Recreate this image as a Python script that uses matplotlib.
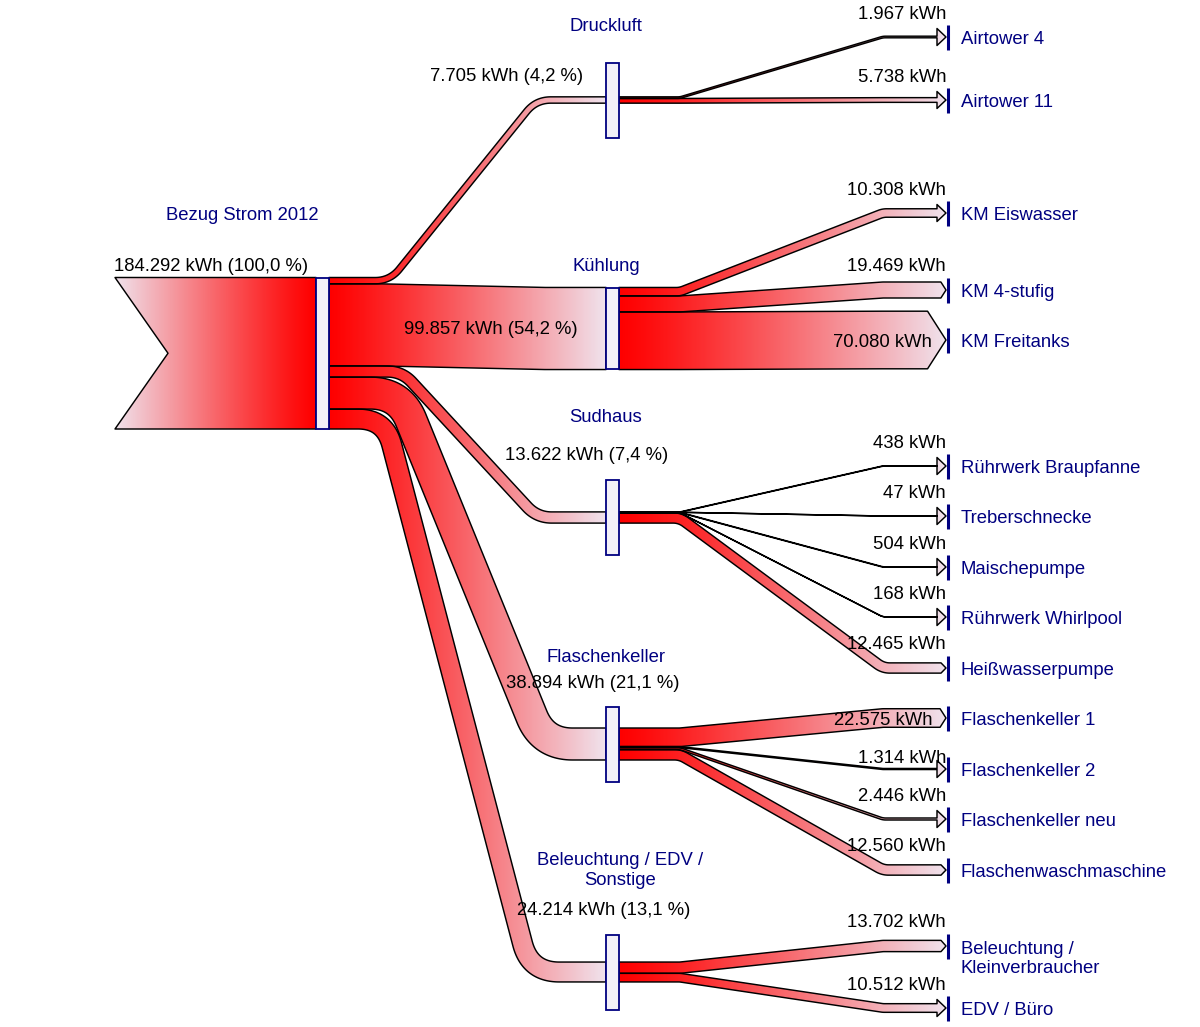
import numpy as np
import matplotlib
matplotlib.use('Agg')
import matplotlib.pyplot as plt
from matplotlib.patches import Polygon, Rectangle
from matplotlib.colors import LinearSegmentedColormap

plt.rcParams['font.family'] = ['Liberation Sans', 'DejaVu Sans']

# ---------------- data ----------------
source_name = 'Bezug Strom 2012'
source_value = 184292

mid_names = ['Druckluft', 'Kühlung', 'Sudhaus', 'Flaschenkeller',
             'Beleuchtung / EDV /\nSonstige']
mid_values = [7705, 99857, 13622, 38894, 24214]

end_names = ['Airtower 4', 'Airtower 11',
             'KM Eiswasser', 'KM 4-stufig', 'KM Freitanks',
             'Rührwerk Braupfanne', 'Treberschnecke', 'Maischepumpe',
             'Rührwerk Whirlpool', 'Heißwasserpumpe',
             'Flaschenkeller 1', 'Flaschenkeller 2', 'Flaschenkeller neu',
             'Flaschenwaschmaschine',
             'Beleuchtung /\nKleinverbraucher', 'EDV / Büro']
end_values = [1967, 5738,
              10308, 19469, 70080,
              438, 47, 504, 168, 12465,
              22575, 1314, 2446, 12560,
              13702, 10512]
end_parent = [0, 0, 1, 1, 1, 2, 2, 2, 2, 2, 3, 3, 3, 3, 4, 4]

# ---------------- layout (canvas pixels) ----------------
SCALE = 151.5 / source_value          # px per kWh
SRC_TIP, SRC_NOTCH, SRC_X0, SRC_X1 = 115, 168, 316, 329
SRC_TOP = 277.5
MID_X0, MID_X1 = 606, 619
END_TIP, BAR_X = 946, 948

mid_y = [100, 328.5, 517.5, 744, 972]
mid_bend_a = [390, 380, 402, 400, 385]
mid_bend_b = [536, 545, 537, 543, 530]
mid_name_pos = [(606, 24), (606, 264), (606, 415), (606, 655), (620, 868)]
mid_value_pos = [(507, 74), (491, 327), (587, 453), (593, 681), (604, 908)]

end_y = [37, 100, 213, 290, 340, 466, 516, 567, 617, 668,
         718, 769, 819, 870, 946, 1008]
end_label_y = [37, 100, 213, 290, 340, 466, 516, 567, 617, 668,
               718, 769, 819, 870, 956.5, 1008]
end_value_dy = [-25, -25, -25, -26, 0, -25, -25, -25, -25, -26,
                0, -13, -25, -26, -26, -25]
END_BEND_A, END_BEND_B = 680, 883
TEXT_DY = 2.5   # visual centring of glyphs

RED = '#ff0000'
PALE = '#f0e2ec'
NAVY = '#000080'
BOX_FACE = '#f2f0f8'
FS = 13.3

cmap = LinearSegmentedColormap.from_list('flow', [RED, PALE], gamma=1.15)


def fmt_kwh(v):
    return f"{v:,}".replace(',', '.') + ' kWh'


def fmt_pct(v):
    return f"{v / source_value * 100:.1f}".replace('.', ',') + ' %'


def centerline(x0, y0, x1, y1, xa, xb, r):
    P = np.array([[x0, y0], [xa, y0], [xb, y1], [x1, y1]], float)
    pts = [P[0]]
    for i in (1, 2):
        v_in = P[i] - P[i - 1]
        v_out = P[i + 1] - P[i]
        l_in, l_out = np.hypot(*v_in), np.hypot(*v_out)
        u_in, u_out = v_in / l_in, v_out / l_out
        theta = np.arccos(np.clip(np.dot(u_in, u_out), -1, 1))
        if theta < 1e-3:
            pts.append(P[i])
            continue
        d = min(r * np.tan(theta / 2), 0.48 * l_in, 0.48 * l_out)
        a = P[i] - d * u_in
        b = P[i] + d * u_out
        t = np.linspace(0, 1, 40)[:, None]
        pts.extend((1 - t) ** 2 * a + 2 * t * (1 - t) * P[i] + t ** 2 * b)
    pts.append(P[3])
    pts = np.array(pts)
    keep = np.r_[True, np.hypot(*np.diff(pts, axis=0).T) > 1e-6]
    return pts[keep]


def band(x0, y0, x1, y1, xa, xb, w, r, head=False):
    body_end = x1
    if head:
        if w < 9.5:
            hh, hl = 8.5, 9
        else:
            hh, hl = w / 2, max(5, 0.32 * w)
        body_end = x1 - hl
    c = centerline(x0, y0, body_end, y1, xa, xb, r)
    tan = np.gradient(c, axis=0)
    tan /= np.hypot(tan[:, 0], tan[:, 1])[:, None]
    nrm = np.column_stack([-tan[:, 1], tan[:, 0]])
    e1 = c + nrm * w / 2
    e2 = c - nrm * w / 2
    mid = []
    if head:
        mid = [[body_end, y1 + hh], [x1, y1], [body_end, y1 - hh]]
    return np.vstack([e1, np.array(mid).reshape(-1, 2), e2[::-1]])


def draw_gradient_shape(ax, verts, xs, xe, t_start=0.0, t_end=1.0, z=2):
    poly = Polygon(verts, closed=True, facecolor='none', edgecolor='black',
                   lw=1.05, joinstyle='round', zorder=z + 0.05)
    ax.add_patch(poly)
    xmin, xmax = verts[:, 0].min(), verts[:, 0].max()
    ymin, ymax = verts[:, 1].min() - 1, verts[:, 1].max() + 1
    gx = np.linspace(xmin, xmax, 300)
    frac = np.clip((gx - xs) / (xe - xs), 0, 1)
    grad = (t_start + (t_end - t_start) * frac)[None, :]
    im = ax.imshow(grad, cmap=cmap, vmin=0, vmax=1, aspect='auto',
                   extent=[xmin, xmax, ymax, ymin], interpolation='bilinear',
                   zorder=z)
    im.set_clip_path(poly)


fig = plt.figure(figsize=(12, 10.27), dpi=100)
ax = fig.add_axes([0, 0, 1, 1])

# source arrow
src_w = source_value * SCALE
src_bot = SRC_TOP + src_w
arrow = np.array([[SRC_TIP, SRC_TOP], [SRC_X0, SRC_TOP], [SRC_X0, src_bot],
                  [SRC_TIP, src_bot], [SRC_NOTCH, SRC_TOP + src_w / 2]])
draw_gradient_shape(ax, arrow, SRC_TIP, SRC_X0, 1.0, 0.0)

# source -> middle nodes
y_cursor = SRC_TOP
for i, v in enumerate(mid_values):
    w = v * SCALE
    y_start = y_cursor + w / 2
    y_cursor += w
    verts = band(SRC_X1, y_start, MID_X0, mid_y[i], mid_bend_a[i], mid_bend_b[i],
                 w, 28 + w / 2)
    draw_gradient_shape(ax, verts, SRC_X1, MID_X0)

# middle nodes -> end consumers
mid_cursor = [mid_y[i] - mid_values[i] * SCALE / 2 for i in range(len(mid_values))]
for j, v in enumerate(end_values):
    p = end_parent[j]
    w = v * SCALE
    y_start = mid_cursor[p] + w / 2
    mid_cursor[p] += w
    verts = band(MID_X1, y_start, END_TIP, end_y[j], END_BEND_A, END_BEND_B,
                 w, 16 + w / 2, head=True)
    draw_gradient_shape(ax, verts, MID_X1, END_TIP, z=3)
    ax.plot([BAR_X, BAR_X], [end_y[j] - 12.5, end_y[j] + 12.5], color=NAVY,
            lw=2.2, solid_capstyle='butt', zorder=5)
    ax.text(961, end_label_y[j] + TEXT_DY, end_names[j], color=NAVY,
            fontsize=FS, ha='left', va='center', zorder=6)
    if end_value_dy[j] == 0:
        ax.text(932, end_y[j] + TEXT_DY, fmt_kwh(v), fontsize=FS, ha='right',
                va='center', zorder=6)
    else:
        ax.text(END_TIP, end_y[j] + end_value_dy[j] + TEXT_DY, fmt_kwh(v),
                fontsize=FS, ha='right', va='center', zorder=6)

# node boxes
ax.add_patch(Rectangle((SRC_X0, SRC_TOP), SRC_X1 - SRC_X0, src_w,
                       facecolor=BOX_FACE, edgecolor=NAVY, lw=1.3, zorder=5))
for i, v in enumerate(mid_values):
    h = max(v * SCALE - 2, 75)
    ax.add_patch(Rectangle((MID_X0, mid_y[i] - h / 2), MID_X1 - MID_X0, h,
                           facecolor=BOX_FACE, edgecolor=NAVY, lw=1.3, zorder=5))
    nx, ny = mid_name_pos[i]
    ax.text(nx, ny + TEXT_DY, mid_names[i], color=NAVY, fontsize=FS,
            ha='center', va='center', multialignment='center', zorder=6)
    vx, vy = mid_value_pos[i]
    ax.text(vx, vy + TEXT_DY, f"{fmt_kwh(v)} ({fmt_pct(v)})", fontsize=FS,
            ha='center', va='center', zorder=6)

ax.text(242, 213 + TEXT_DY, source_name, color=NAVY, fontsize=FS,
        ha='center', va='center', zorder=6)
ax.text(211, 264 + TEXT_DY, f"{fmt_kwh(source_value)} ({fmt_pct(source_value)})",
        fontsize=FS, ha='center', va='center', zorder=6)

ax.set_xlim(0, 1200)
ax.set_ylim(1027, 0)
ax.axis('off')
fig.savefig('out.png', dpi=100, facecolor='white')
